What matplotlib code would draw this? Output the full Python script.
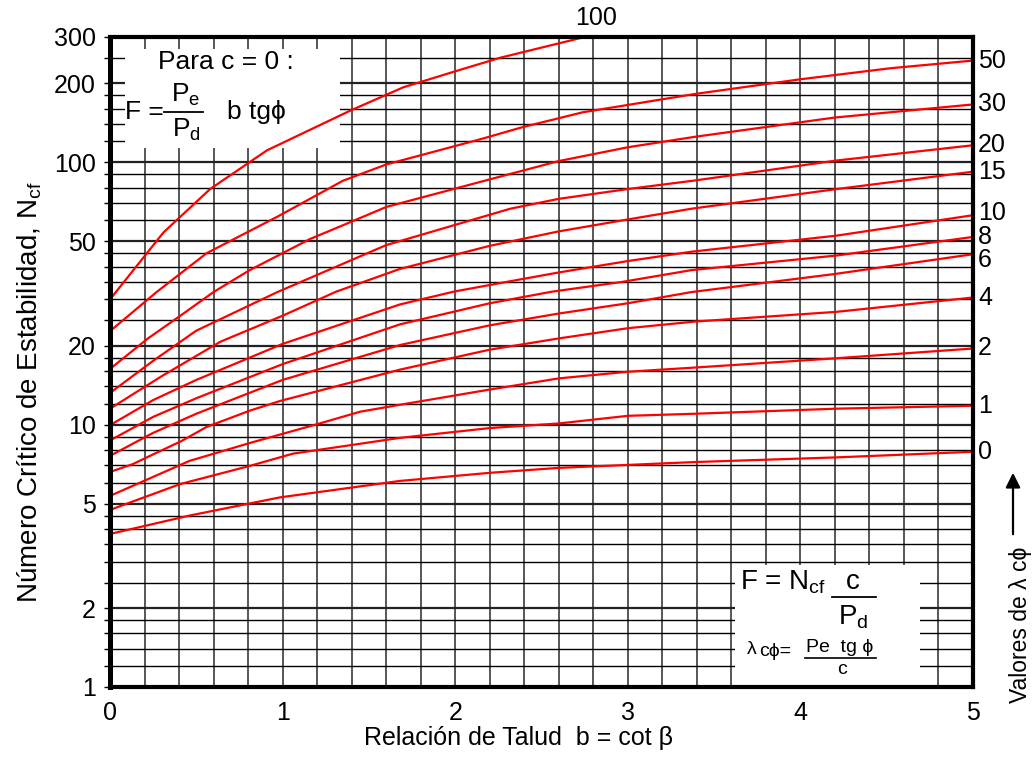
import matplotlib
matplotlib.use("Agg")
import matplotlib.pyplot as plt
from matplotlib.patches import Rectangle, FancyArrowPatch
from matplotlib.lines import Line2D
from matplotlib.transforms import offset_copy

plt.rcParams['font.family'] = ['Liberation Sans', 'DejaVu Sans']
plt.rcParams['mathtext.fontset'] = 'custom'
plt.rcParams['mathtext.rm'] = 'Liberation Sans'
plt.rcParams['mathtext.it'] = 'Liberation Sans'
plt.rcParams['mathtext.sf'] = 'Liberation Sans'

W, H = 1034, 783

# ---------------- data ----------------
lambda_labels = ["100", "50", "30", "20", "15", "10", "8", "6", "4", "2", "1", "0"]

b_100 = [0, 0.31, 0.58, 0.91, 1.39, 1.70, 2.0, 2.26, 2.75]
n_100 = [30, 54, 79, 111, 157, 193, 222, 250, 300]

b_50 = [0, 0.27, 0.56, 0.97, 1.35, 1.6, 2.14, 2.39, 2.74, 3.39, 4.0, 4.52, 5.0]
n_50 = [22.7, 32, 45, 62, 85, 98, 122, 136, 155, 182, 207, 228, 244]

b_30 = [0, 0.22, 0.415, 0.6, 0.81, 1.16, 1.39, 1.6, 2.2, 2.6, 3.0, 3.39, 4.2, 5.0]
n_30 = [16.3, 21.3, 26.2, 32, 38.8, 51, 59, 67.5, 86, 101, 114, 125, 148, 166]

b_20 = [0, 0.25, 0.5, 0.97, 1.6, 2.0, 2.32, 2.6, 3.0, 3.39, 4.21, 5.0]
n_20 = [13.2, 17.5, 22.8, 32, 48.3, 57.7, 66.5, 72.5, 79, 85.2, 101.5, 116]

b_15 = [0, 0.3, 0.64, 1.0, 1.31, 1.68, 2.2, 2.6, 3.0, 3.37, 4.21, 5.0]
n_15 = [11.5, 15.3, 20.7, 26, 32.1, 39.2, 48, 54.5, 60.5, 66.5, 79, 92]

b_10 = [0, 0.25, 0.5, 1.0, 1.68, 1.99, 2.3, 2.6, 3.0, 3.37, 4.21, 5.0]
n_10 = [9.95, 12.4, 14.8, 20.3, 28.7, 32.1, 35, 38, 42, 45.6, 52.5, 62.8]

b_8 = [0, 0.25, 0.5, 1.0, 1.68, 2.2, 2.56, 2.97, 3.37, 4.21, 5.0]
n_8 = [8.7, 10.7, 12.6, 17, 24.1, 29, 32.1, 35, 38.8, 44.1, 51.9]

b_6 = [0, 0.25, 0.5, 1.0, 1.68, 2.2, 2.6, 3.0, 3.37, 4.2, 5.0]
n_6 = [7.6, 9.3, 11, 14.8, 20.1, 23.9, 26.5, 29, 32, 37.5, 44.6]

b_4 = [0, 0.13, 0.25, 0.415, 0.56, 0.81, 0.985, 1.68, 2.2, 2.6, 3.0, 3.39, 4.21, 5.0]
n_4 = [6.6, 7.06, 7.7, 8.66, 9.8, 11.3, 12.3, 16.2, 19.3, 21.3, 23.3, 24.7, 26.9, 30.5]

b_2 = [0, 0.46, 0.81, 1.18, 1.45, 1.68, 2.2, 2.6, 3.0, 3.39, 4.21, 5.0]
n_2 = [5.35, 7.27, 8.51, 9.95, 11.2, 11.9, 13.6, 15.0, 15.9, 16.5, 17.9, 19.5]

b_1 = [0, 0.405, 0.81, 1.06, 1.68, 2.2, 2.6, 3.0, 3.39, 4.21, 5.0]
n_1 = [4.73, 5.93, 6.96, 7.75, 8.9, 9.7, 10.1, 10.8, 11.0, 11.5, 11.8]

b_0 = [0, 0.46, 0.985, 1.68, 2.2, 2.6, 3.39, 4.21, 5.0]
n_0 = [3.83, 4.5, 5.28, 6.1, 6.55, 6.84, 7.2, 7.5, 7.88]

curves_b = [b_100, b_50, b_30, b_20, b_15, b_10, b_8, b_6, b_4, b_2, b_1, b_0]
curves_n = [n_100, n_50, n_30, n_20, n_15, n_10, n_8, n_6, n_4, n_2, n_1, n_0]

x_ticks = [0, 1, 2, 3, 4, 5]
y_ticks = [1, 2, 5, 10, 20, 50, 100, 200, 300]
y_tick_labels = ["1", "2", "5", "10", "20", "50", "100", "200", "300"]
y_grid_base = [1, 1.2, 1.4, 1.6, 1.8, 2, 2.5, 3, 3.5, 4, 4.5, 5, 6, 7, 8, 9]
y_grid_top = [100, 120, 140, 160, 180, 200, 250, 300]
x_grid = [i * 0.2 for i in range(26)]

# ---------------- figure ----------------
fig = plt.figure(figsize=(W / 100, H / 100), dpi=100)
L, R, T, B = 110, 973, 37, 687
ax = fig.add_axes([L / W, 1 - B / H, (R - L) / W, (B - T) / H])
ax.set_yscale('log')
ax.set_xlim(0, 5)
ax.set_ylim(1, 300)

minor_y = [v * d for d in (1, 10) for v in y_grid_base] + y_grid_top
ax.set_yticks(y_ticks)
ax.set_yticklabels(y_tick_labels)
ax.set_yticks(minor_y, minor=True)
ax.yaxis.set_minor_formatter(plt.NullFormatter())
ax.set_xticks(x_ticks)
ax.set_xticks(x_grid, minor=True)

ax.set_axisbelow(True)
ax.grid(True, axis='y', which='minor', color='black', lw=1.0)
ax.grid(True, axis='y', which='major', color='#222222', lw=1.6)
ax.grid(True, axis='x', which='both', color='#4a4a4a', lw=1.3)

TICK_FS = 18
ax.tick_params(axis='y', which='both', direction='out', length=4, width=1, pad=6,
               labelsize=TICK_FS, left=True, right=False)
ax.tick_params(axis='x', which='both', length=0, pad=10, labelsize=TICK_FS)

ax.spines['left'].set_linewidth(3.6)
for side in ['top', 'right', 'bottom']:
    ax.spines[side].set_linewidth(3.0)

# white boxes behind text, over grid
def px_rect(x0, y0, x1, y1):
    return Rectangle((x0 / W, 1 - y1 / H), (x1 - x0) / W, (y1 - y0) / H,
                     transform=fig.transFigure, fc='white', ec='none', zorder=1.5)

ax.add_patch(px_rect(125, 49, 340, 148))
ax.add_patch(px_rect(735, 565, 920, 685))

# curves
for bb, nn in zip(curves_b, curves_n):
    ax.plot(bb, nn, color='#ff0000', lw=1.6, zorder=2, solid_joinstyle='round')

# right-hand lambda labels at curve ends
label_shift = {"10": 1.5, "8": 0.0, "6": -4.5}
for lab, bb, nn in zip(lambda_labels, curves_b, curves_n):
    if lab == "100":
        continue
    tr = offset_copy(ax.transData, fig=fig, x=0, y=label_shift.get(lab, 0), units='points')
    ax.text(5.03, nn[-1], lab, fontsize=TICK_FS, ha='left', va='center',
            clip_on=False, zorder=3, transform=tr)

def ftext(x, y, s, **kw):
    fig.text(x / W, 1 - y / H, s, **kw)

ftext(596, 18, "100", fontsize=TICK_FS, ha='center', va='center')

# axis labels
ftext(519, 738, "Relación de Talud  b = cot β", fontsize=18, ha='center', va='center')
ftext(30, 392, r"Número Crítico de Estabilidad, N$_{\mathrm{cf}}$", fontsize=20,
      ha='center', va='center', rotation=90)
ftext(1021, 625, "Valores de λ cϕ", fontsize=16.5, ha='center', va='center', rotation=90)

arrow = FancyArrowPatch((1013 / W, 1 - 537 / H), (1013 / W, 1 - 470 / H),
                        transform=fig.transFigure, arrowstyle='-|>',
                        mutation_scale=22, lw=1.6, color='black')
fig.patches.append(arrow)

# top-left box text
BOX_FS = 19
ftext(226, 62, "Para c = 0 :", fontsize=BOX_FS, ha='center', va='center')
ftext(125, 112, "F =", fontsize=BOX_FS, ha='left', va='center')
ftext(186, 95, r"P$_{\mathrm{e}}$", fontsize=BOX_FS, ha='center', va='center')
ftext(186, 130, r"P$_{\mathrm{d}}$", fontsize=BOX_FS, ha='center', va='center')
fig.lines.append(Line2D([164 / W, 203 / W], [1 - 112 / H, 1 - 112 / H],
                        transform=fig.transFigure, color='black', lw=1.3))
ftext(227, 112, "b tgϕ", fontsize=BOX_FS, ha='left', va='center')

# bottom-right box text
ftext(740, 582, r"F = N$_{\mathrm{cf}}$", fontsize=20, ha='left', va='center')
ftext(853, 582, "c", fontsize=20, ha='center', va='center')
fig.lines.append(Line2D([832 / W, 876 / W], [1 - 597 / H, 1 - 597 / H],
                        transform=fig.transFigure, color='black', lw=1.3))
ftext(853, 617, r"P$_{\mathrm{d}}$", fontsize=20, ha='center', va='center')
ftext(747, 649, "λ", fontsize=14, ha='left', va='center')
ftext(759, 652, "cϕ=", fontsize=14, ha='left', va='center')
ftext(840, 648, "Pe  tg ϕ", fontsize=14, ha='center', va='center')
fig.lines.append(Line2D([805 / W, 876 / W], [1 - 658 / H, 1 - 658 / H],
                        transform=fig.transFigure, color='black', lw=1.2))
ftext(842, 669, "c", fontsize=14, ha='center', va='center')

fig.savefig("out.png", dpi=100)
